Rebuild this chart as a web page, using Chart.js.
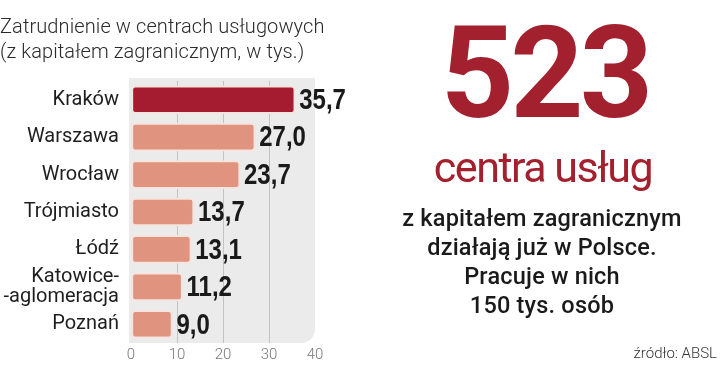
<!DOCTYPE html>
<html><head><meta charset="utf-8">
<script src="https://cdn.jsdelivr.net/npm/chart.js@4"></script>
<style>
html,body{margin:0;padding:0;background:#fff;}
#wrap{position:relative;width:720px;height:366px;overflow:hidden;font-family:Roboto,sans-serif;}
canvas{position:absolute;left:0;top:0;}
.t{position:absolute;white-space:nowrap;}
#title{left:0;top:14px;font-size:20px;font-weight:300;color:#2a2a2a;line-height:25px;letter-spacing:0.1px;}
#big{left:545px;top:-2px;transform:translateX(-50%);font-size:128px;font-weight:700;color:#a3202f;letter-spacing:-4px;line-height:150px;}
#sub{left:543px;top:137px;transform:translateX(-50%);font-size:43px;font-weight:400;color:#a3202f;letter-spacing:-1.5px;line-height:60px;}
#desc{left:542px;top:204px;transform:translateX(-50%);font-size:23.5px;font-weight:500;color:#1a1a1a;text-align:center;line-height:29px;letter-spacing:0.2px;}
#src{right:3px;top:344px;font-size:15px;font-weight:300;color:#333;}
</style></head>
<body><div id="wrap">
<canvas id="c" width="720" height="366"></canvas>
<div class="t" id="title">Zatrudnienie w centrach usługowych<br>(z kapitałem zagranicznym, w tys.)</div>
<div class="t" id="big">523</div>
<div class="t" id="sub">centra usług</div>
<div class="t" id="desc">z kapitałem zagranicznym<br>działają już w Polsce.<br>Pracuje w nich<br>150 tys. osób</div>
<div class="t" id="src">źródło: ABSL</div>
</div>
<script>
const categories = ["Kraków","Warszawa","Wrocław","Trójmiasto","Łódź",["Katowice-","-aglomeracja"],"Poznań"];
const values = [35.7, 27.0, 23.7, 13.7, 13.1, 11.2, 9.0];
const xTicks = [0, 10, 20, 30, 40];
const barColors = values.map((v,i)=> i===0 ? '#a51c30' : '#e0937f');

const panel = {
  id:'panel',
  beforeDraw(chart){
    const {ctx, chartArea:a} = chart;
    ctx.save();
    ctx.fillStyle='#ebebeb';
    ctx.beginPath();
    ctx.roundRect(a.left-2, a.top-3, a.right-a.left+2, a.bottom-a.top+3, [0,0,14,0]);
    ctx.fill();
    ctx.restore();
  }
};
const labels = {
  id:'vlabels',
  afterDatasetsDraw(chart){
    const {ctx} = chart;
    const meta = chart.getDatasetMeta(0);
    ctx.save();
    ctx.fillStyle='#1a1a1a';
    ctx.font="bold 30px 'Liberation Sans',Arial,sans-serif";
    ctx.textBaseline='middle';
    meta.data.forEach((bar,i)=>{
      ctx.save();
      ctx.translate(bar.x+4, bar.y+1);
      ctx.scale(0.8,1);
      ctx.fillText(values[i].toFixed(1).replace('.',','), 0, 0);
      ctx.restore();
    });
    ctx.restore();
  }
};
new Chart(document.getElementById('c'), {
  type:'bar',
  data:{labels:categories, datasets:[{data:values, backgroundColor:barColors, borderColor:'#f6e4de', borderWidth:2, borderRadius:4, borderSkipped:false, barThickness:28}]},
  options:{
    indexAxis:'y', responsive:false, animation:false, devicePixelRatio:1,
    layout:{padding:{top:81,right:405,left:0,bottom:0}},
    plugins:{legend:{display:false}, tooltip:{enabled:false}},
    scales:{
      x:{min:0,max:40,
         afterBuildTicks(s){ s.ticks = xTicks.map(v=>({value:v})); },
         afterFit(s){ s.height = 23; },
         ticks:{color:'#777',font:{family:'Roboto',size:15,weight:300},padding:3},
         grid:{drawTicks:false, color:(c)=> (c.tick && (c.tick.value===0||c.tick.value===40)) ? 'rgba(0,0,0,0)' : '#c2c2c2', lineWidth:1},
         border:{display:false}},
      y:{afterFit(s){ s.width = 131; },
         ticks:{autoSkip:false,color:'#1e1e1e',font:{family:'Roboto',size:20,lineHeight:1.0},padding:4},
         grid:{display:false}, border:{display:false}}
    }
  },
  plugins:[panel, labels]
});
</script>
</body></html>
